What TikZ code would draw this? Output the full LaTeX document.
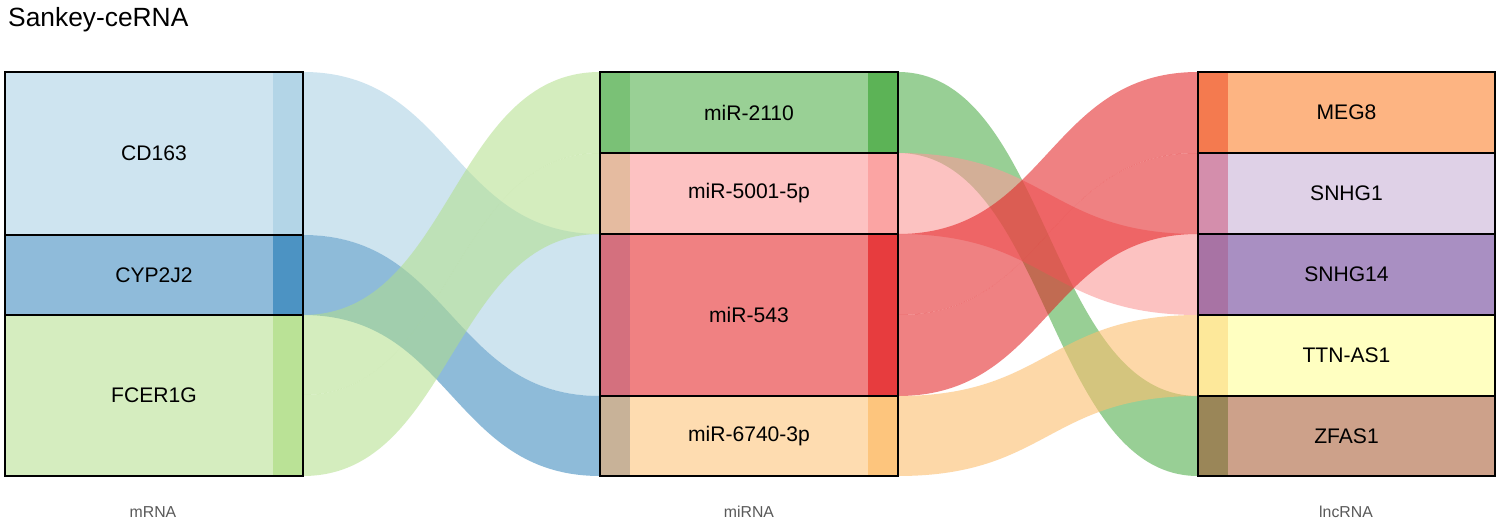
\documentclass[tikz,border=0pt]{standalone}
\usepackage{fontspec}
\setmainfont{Liberation Sans}
\begin{document}
\begin{tikzpicture}[x=0.02cm,y=-0.02cm,
  lbl/.style={font=\fontsize{12}{14}\selectfont},
  axl/.style={font=\fontsize{9}{11}\selectfont, text=black!65},
  frame/.style={draw=black, line width=1.1pt}]
\useasboundingbox (0,0) rectangle (1500,526);
\fill[white] (0,0) rectangle (1500,526);
% colours
\definecolor{cA}{HTML}{A6CEE3}\definecolor{cB}{HTML}{1F78B4}\definecolor{cC}{HTML}{B2DF8A}
\definecolor{cD}{HTML}{33A02C}\definecolor{cE}{HTML}{FB9A99}\definecolor{cF}{HTML}{E31A1C}
\definecolor{cG}{HTML}{FDBF6F}
\definecolor{r1b}{HTML}{FDB482}\definecolor{r1s}{HTML}{F47A4F}
\definecolor{r2b}{HTML}{DFD1E7}\definecolor{r2s}{HTML}{D48EAC}
\definecolor{r3b}{HTML}{A98FC2}\definecolor{r3s}{HTML}{A873A4}
\definecolor{r4b}{HTML}{FFFFC1}\definecolor{r4s}{HTML}{FDE89A}
\definecolor{r5b}{HTML}{CDA18A}\definecolor{r5s}{HTML}{9A8658}
\definecolor{m2l}{HTML}{E5BBA0}\definecolor{m3l}{HTML}{D4707E}\definecolor{m4l}{HTML}{C8B298}
% flow macro: x1, top1, bot1, x2, top2, bot2, colour, opacity
\newcommand{\myflow}[8]{\fill[#7, opacity=#8] (#1,#2) .. controls ({(#1+#4)/2},#2) and ({(#1+#4)/2},#5) .. (#4,#5) -- (#4,#6) .. controls ({(#1+#4)/2},#6) and ({(#1+#4)/2},#3) .. (#1,#3) -- cycle;}
% left -> middle
\myflow{303}{72}{235}{600}{234}{396}{cA}{0.55}
\myflow{303}{235}{315}{600}{396}{476}{cB}{0.5}
\myflow{303}{315}{395}{600}{72}{153}{cC}{0.55}
\myflow{303}{395}{476}{600}{153}{234}{cC}{0.55}
% middle -> right
\myflow{898}{72}{153}{1198}{396}{476}{cD}{0.5}
\myflow{898}{153}{234}{1198}{234}{315}{cE}{0.6}
\myflow{898}{234}{315}{1198}{72}{153}{cF}{0.55}
\myflow{898}{315}{396}{1198}{153}{234}{cF}{0.55}
\myflow{898}{396}{476}{1198}{315}{396}{cG}{0.6}
% boxes: x1,x2,y1,y2, fill, strip side, strip colour, name, text
\newcommand{\mybox}[9]{%
  \fill[#5] (#1,#3) rectangle (#2,#4);
  \ifnum#6=1 \fill[#7] (#2-30,#3) rectangle (#2,#4);\fi
  \ifnum#6=2 \fill[#7] (#1,#3) rectangle (#1+30,#4);\fi
  \draw[frame] (#1,#3) rectangle (#2,#4);
  \node[lbl] (#8) at ({(#1+#2)/2},{(#3+#4)/2}) {#9};}
\newcommand{\mystrip}[5]{\fill[#5] (#1,#3) rectangle (#2,#4);}
% left
\mybox{5}{303}{72}{235}{cA!55}{1}{cA!85}{cd}{CD163}
\mybox{5}{303}{235}{315}{cB!50}{1}{cB!80}{cyp}{CYP2J2}
\mybox{5}{303}{315}{476}{cC!55}{1}{cC!90}{fce}{FCER1G}
% middle
\mybox{600}{898}{72}{153}{cD!50}{2}{cD!65}{m1}{miR-2110}
\mystrip{868}{898}{72}{153}{cD!80}
\mybox{600}{898}{153}{234}{cE!60}{2}{m2l}{m2}{miR-5001-5p}
\mystrip{868}{898}{153}{234}{cE!90}
\mybox{600}{898}{234}{396}{cF!55}{2}{m3l}{m3}{miR-543}
\mystrip{868}{898}{234}{396}{cF!85}
\mybox{600}{898}{396}{476}{cG!55}{2}{m4l}{m4}{miR-6740-3p}
\mystrip{868}{898}{396}{476}{cG!90}
\draw[frame] (600,72) rectangle (898,153) (600,153) rectangle (898,234) (600,234) rectangle (898,396) (600,396) rectangle (898,476);
% right
\mybox{1198}{1495}{72}{153}{r1b}{2}{r1s}{r1}{MEG8}
\mybox{1198}{1495}{153}{234}{r2b}{2}{r2s}{r2}{SNHG1}
\mybox{1198}{1495}{234}{315}{r3b}{2}{r3s}{r3}{SNHG14}
\mybox{1198}{1495}{315}{396}{r4b}{2}{r4s}{r4}{TTN-AS1}
\mybox{1198}{1495}{396}{476}{r5b}{2}{r5s}{r5}{ZFAS1}
% titles
\node[anchor=west, font=\fontsize{15}{17}\selectfont] (title) at (2,20) {Sankey-ceRNA};
\node[axl] (ax1) at (153,512) {mRNA};
\node[axl] (ax2) at (749,512) {miRNA};
\node[axl] (ax3) at (1346,512) {lncRNA};
\end{tikzpicture}
\end{document}
